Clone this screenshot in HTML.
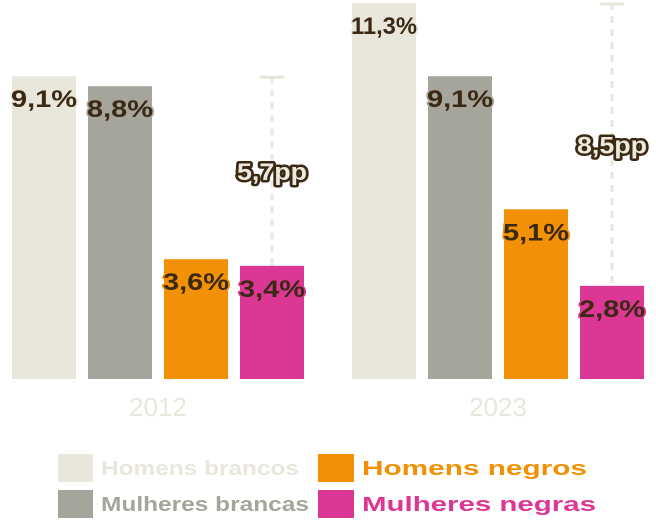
<!DOCTYPE html>
<html><head><meta charset="utf-8"><style>
html,body{margin:0;padding:0;background:#fff;}
svg{display:block;font-family:"Liberation Sans",sans-serif;}
.val{font-weight:bold;font-size:24px;fill:#3b2914;stroke-width:3px;paint-order:stroke;stroke-linejoin:round;}
.pp{font-weight:bold;font-size:24px;fill:#ece9de;stroke:#3b2914;stroke-width:5px;paint-order:stroke;stroke-linejoin:round;}
.leg{font-weight:bold;font-size:20px;}
</style></head><body>
<svg id="chart" width="656" height="520">
<g id="bars"></g>
<g>
<rect x="58" y="454" width="35" height="28" fill="#e9e7dc"/>
<text class="leg" x="101" y="475" fill="#e9e7dc" textLength="198" lengthAdjust="spacingAndGlyphs">Homens brancos</text>
<rect x="58" y="490" width="35" height="28" fill="#a6a59c"/>
<text class="leg" x="101" y="511" fill="#a6a59c" textLength="208" lengthAdjust="spacingAndGlyphs">Mulheres brancas</text>
<rect x="318" y="454" width="36" height="28" fill="#f29105"/>
<text class="leg" x="362" y="475" fill="#f29105" textLength="225" lengthAdjust="spacingAndGlyphs">Homens negros</text>
<rect x="318" y="490" width="36" height="28" fill="#dc3794"/>
<text class="leg" x="362" y="511" fill="#dc3794" textLength="234" lengthAdjust="spacingAndGlyphs">Mulheres negras</text>
</g>
</svg>
<script>
const years = ["2012", "2023"];
const homensBrancos = [9.1, 11.3];
const mulheresBrancas = [8.8, 9.1];
const homensNegros = [3.6, 5.1];
const mulheresNegras = [3.4, 2.8];
const gapLabels = ["5,7pp", "8,5pp"];

const NS = "http://www.w3.org/2000/svg";
const g = document.getElementById("bars");
const baseY = 379, topY = 3, maxV = 11.3;
function y(v){ return baseY - (baseY - topY) * v / maxV; }
function groupX(i){ return 12 + i * 340; }
const series = [
  {name:"homens-brancos", data:homensBrancos, color:"#e9e7dc"},
  {name:"mulheres-brancas", data:mulheresBrancas, color:"#a6a59c"},
  {name:"homens-negros", data:homensNegros, color:"#f29105"},
  {name:"mulheres-negras", data:mulheresNegras, color:"#dc3794"}
];
function fmt(v){ return v.toFixed(1).replace(".", ",") + "%"; }
function mk(tag, attrs){ const e = document.createElementNS(NS, tag); for (const k in attrs) e.setAttribute(k, attrs[k]); g.appendChild(e); return e; }

years.forEach((yr, i) => {
  const gx = groupX(i);
  const lx = gx + 260;
  const line = mk("line", {x1:lx, x2:lx, y1:y(homensBrancos[i]), y2:y(mulheresNegras[i]), stroke:"#e9e7dc", "stroke-width":3, "stroke-dasharray":"7,6"});
  
  
  const cap = mk("line", {x1:lx-12, x2:lx+12, y1:y(homensBrancos[i])+1, y2:y(homensBrancos[i])+1, stroke:"#e9e7dc", "stroke-width":3});
  
  

  series.forEach((s, j) => {
    const x = gx + j * 76;
    const v = s.data[i];
    const r = mk("rect", {x:x, y:y(v), width:64, height:baseY - y(v), fill:s.color});
    
    
  });
  series.forEach((s, j) => {
    const x = gx + j * 76;
    const v = s.data[i];
    const t = mk("text", {x:x + 32, y:y(v) + 31, "text-anchor":"middle", class:"val", stroke:s.color, textLength:66, lengthAdjust:"spacingAndGlyphs"});
    t.textContent = fmt(v);
    
    
  });
  const mid = (y(homensBrancos[i]) + y(mulheresNegras[i])) / 2;
  const p = mk("text", {x:lx, y:mid + 9, "text-anchor":"middle", class:"pp", textLength:70, lengthAdjust:"spacingAndGlyphs"});
  p.textContent = gapLabels[i];
  
  

  const yl = mk("text", {x:gx + 146, y:416, "text-anchor":"middle", "font-size":26, fill:"#e9e7dc"});
  yl.textContent = yr;
  
  
});
</script>
</body></html>
